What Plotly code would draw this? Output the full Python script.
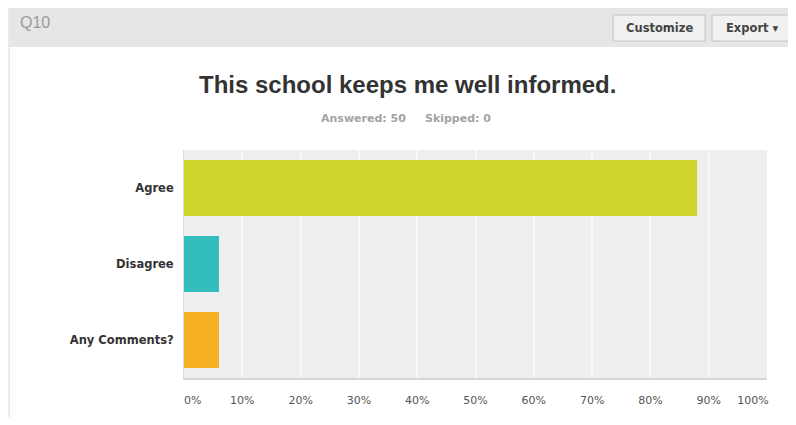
import plotly.graph_objects as go

categories = ["Agree", "Disagree", "Any Comments?"]
percents = [88, 6, 6]
bar_colors = ["#cfd42a", "#33bdbd", "#f7b122"]
tick_vals = [0, 10, 20, 30, 40, 50, 60, 70, 80, 90, 100]
tick_text = ["\u00a0" * 5 + "0%", "10%", "20%", "30%", "40%", "50%",
             "60%", "70%", "80%", "90%", "100%" + "\u00a0" * 8]

# page body adds an 8px margin, so work in shifted coordinates
OFF = 8
W, H = 796 - OFF, 425 - 2 * OFF
L, R, T, B = 183.5 - OFF, 767 - OFF, 150 - OFF, 378 - OFF

SANS = "DejaVu Sans, Verdana, sans-serif"
ARIAL = "Liberation Sans, Arial, sans-serif"


def px(x):
    return (x - OFF - L) / (R - L)


def py(y):
    return (B - (y - OFF)) / (B - T)


fig = go.Figure(
    go.Bar(
        x=percents,
        y=categories,
        orientation="h",
        marker=dict(color=bar_colors, line=dict(width=0)),
        width=0.74,
        hoverinfo="skip",
    )
)

shapes = [
    # panel border
    dict(type="rect", x0=px(8.5), x1=px(800), y0=py(440), y1=py(7),
         line=dict(color="#d8d8d8", width=1), layer="below"),
    # header band
    dict(type="rect", x0=px(8), x1=px(800), y0=py(47), y1=py(7),
         line=dict(width=0), fillcolor="#e6e6e6", layer="below"),
    # buttons
    dict(type="rect", x0=px(613), x1=px(705), y0=py(41), y1=py(15),
         line=dict(color="#c4c4c4", width=1), fillcolor="#f1f1f1", layer="below"),
    dict(type="rect", x0=px(712), x1=px(793), y0=py(41), y1=py(15),
         line=dict(color="#c4c4c4", width=1), fillcolor="#f1f1f1", layer="below"),
]

annotations = [
    dict(text="Q10", x=px(17), y=py(22), xanchor="left", yanchor="middle",
         font=dict(family="Liberation Sans Narrow, Arial Narrow, " + ARIAL, size=16, color="#9a9a9a")),
    dict(text="<b>Customize</b>", x=px(659), y=py(28), xanchor="center", yanchor="middle",
         font=dict(family=SANS, size=11.5, color="#444444")),
    dict(text="<b>Export ▾</b>", x=px(752), y=py(28), xanchor="center", yanchor="middle",
         font=dict(family=SANS, size=11.5, color="#444444")),
    dict(text="<b>This school keeps me well informed.</b>", x=px(407), y=py(84),
         xanchor="center", yanchor="middle",
         font=dict(family=ARIAL, size=24, color="#333333")),
    dict(text="<b>Answered: 50" + "&nbsp;" * 5 + "Skipped: 0</b>", x=px(406), y=py(119),
         xanchor="center", yanchor="middle",
         font=dict(family=SANS, size=11, color="#a3a3a3")),
]
for a in annotations:
    a.update(xref="paper", yref="paper", showarrow=False)
for s in shapes:
    s.update(xref="paper", yref="paper")

fig.update_layout(
    width=W,
    height=H,
    margin=dict(l=L, r=W - R, t=T, b=H - B, pad=0, autoexpand=False),
    paper_bgcolor="#ffffff",
    plot_bgcolor="#efefef",
    showlegend=False,
    bargap=0.26,
    shapes=shapes,
    annotations=annotations,
    font=dict(family=SANS),
    xaxis=dict(
        range=[0, 100],
        tickvals=tick_vals,
        ticktext=tick_text,
        showgrid=True,
        gridcolor="#f9f9f9",
        gridwidth=1.5,
        zeroline=False,
        showline=True,
        linecolor="#d6d6d6",
        linewidth=2,
        ticklabelstandoff=11,
        ticklabeloverflow="allow",
        automargin=False,
        tickfont=dict(family=SANS, size=11, color="#555555"),
        fixedrange=True,
    ),
    yaxis=dict(
        categoryorder="array",
        categoryarray=categories,
        autorange="reversed",
        showgrid=False,
        zeroline=False,
        showline=True,
        linecolor="#dadada",
        linewidth=1,
        ticklabelstandoff=7,
        automargin=False,
        tickfont=dict(family=SANS, size=11.5, color="#333333", weight="bold"),
        fixedrange=True,
    ),
)

fig.write_html("out.html", config=dict(displayModeBar=False))
